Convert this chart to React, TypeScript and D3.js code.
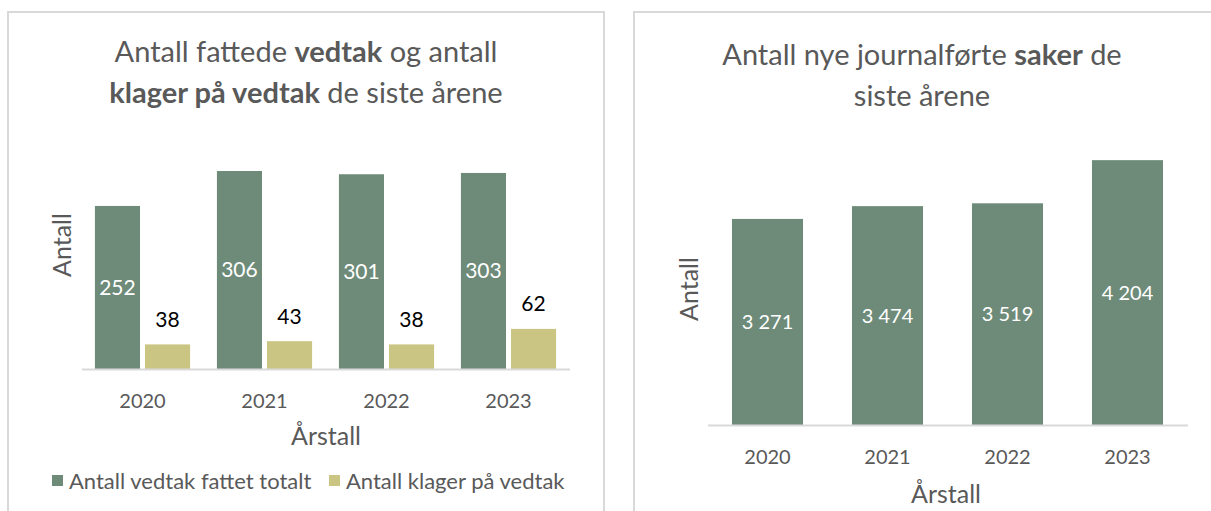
import React, { useEffect, useRef } from 'react';
import * as d3 from 'd3';

// left chart: decisions and complaints
const years = ['2020', '2021', '2022', '2023'];
const vedtakSeries = ['Antall vedtak fattet totalt', 'Antall klager på vedtak'];
const vedtakTotalt = [252, 306, 301, 303];
const klagerPaVedtak = [38, 43, 38, 62];

// right chart: new registered cases
const nyeSaker = [3271, 3474, 3519, 4204];

const GREEN = '#6e8b79';
const YELLOW = '#cbc584';
const GREY = '#595959';
const FONT = 'Lato, "Noto Sans", sans-serif';

const nb = d3.formatLocale({ decimal: ',', thousands: '\u00a0', grouping: [3], currency: ['', ' kr'] });
const fmt = nb.format(',d');

function App() {
  const ref = useRef<SVGSVGElement>(null);

  useEffect(() => {
    const svg = d3.select(ref.current);
    svg.selectAll('*').remove();

    // panels
    svg.append('rect').attr('x', 8).attr('y', 12).attr('width', 596).attr('height', 520)
      .attr('fill', '#fff').attr('stroke', '#d9d9d9').attr('stroke-width', 2);
    svg.append('rect').attr('x', 634).attr('y', 12).attr('width', 600).attr('height', 520)
      .attr('fill', '#fff').attr('stroke', '#d9d9d9').attr('stroke-width', 2);

    const title = (cx: number, lines: [string, boolean][][], y0: number) => {
      lines.forEach((parts, i) => {
        const t = svg.append('text')
          .attr('x', cx).attr('y', y0 + i * 41)
          .attr('text-anchor', 'middle')
          .style('font-family', FONT).style('font-size', '29px')
          .attr('fill', GREY);
        parts.forEach(([s, b]) => t.append('tspan').attr('font-weight', b ? 'bold' : 'normal').text(s));
      });
    };

    // ---- left chart ----
    title(306, [
      [['Antall fattede ', false], ['vedtak', true], [' og antall', false]],
      [['klager på vedtak', true], [' de siste årene', false]],
    ], 62);

    const x0 = d3.scaleBand().domain(years).range([81.5, 569.5]).paddingInner(0.22).paddingOuter(0.11);
    const x1 = d3.scaleBand().domain(vedtakSeries).range([0, x0.bandwidth()]).paddingInner(0.1);
    const y0 = d3.scaleLinear().domain([0, 350]).range([369, 369 - 350 * 0.647]);

    const gl = svg.append('g');
    const rows = years.map((yr, i) => ({ yr, vals: [vedtakTotalt[i], klagerPaVedtak[i]] }));
    const grp = gl.selectAll('g.grp').data(rows).join('g')
      .attr('transform', d => `translate(${x0(d.yr)},0)`);
    grp.selectAll('rect').data(d => d.vals.map((v, j) => ({ v, s: vedtakSeries[j], j })))
      .join('rect')
      .attr('x', d => x1(d.s)!)
      .attr('width', x1.bandwidth())
      .attr('y', d => y0(d.v))
      .attr('height', d => y0(0) - y0(d.v))
      .attr('fill', d => d.j === 0 ? GREEN : YELLOW);
    grp.selectAll('text').data(d => d.vals.map((v, j) => ({ v, s: vedtakSeries[j], j })))
      .join('text')
      .attr('x', d => x1(d.s)! + x1.bandwidth() / 2)
      .attr('y', d => d.j === 0 ? (y0(d.v) + y0(0)) / 2 : y0(d.v) - 25)
      .attr('dy', '0.35em')
      .attr('text-anchor', 'middle')
      .style('font-family', FONT).style('font-size', '21px')
      .attr('fill', d => d.j === 0 ? '#fff' : '#000')
      .text(d => fmt(d.v));

    const axL = gl.append('g').attr('transform', `translate(0,${y0(0)})`)
      .call(d3.axisBottom(x0).tickSize(0).tickPadding(25));
    axL.select('.domain').attr('stroke', '#d9d9d9').attr('stroke-width', 2);
    axL.selectAll('text').style('font-family', FONT).style('font-size', '20px').attr('fill', GREY);

    gl.append('text').attr('x', 326).attr('y', 445).attr('text-anchor', 'middle')
      .style('font-family', FONT).style('font-size', '25px').attr('fill', GREY).text('Årstall');
    gl.append('text').attr('transform', 'translate(71,245) rotate(-90)').attr('text-anchor', 'middle')
      .style('font-family', FONT).style('font-size', '25px').attr('fill', GREY).text('Antall');

    // legend
    const legX = [52, 329];
    vedtakSeries.forEach((s, i) => {
      gl.append('rect').attr('x', legX[i]).attr('y', 475).attr('width', 11).attr('height', 11)
        .attr('fill', i === 0 ? GREEN : YELLOW);
      gl.append('text').attr('x', legX[i] + 17).attr('y', 481).attr('dy', '0.35em')
        .style('font-family', FONT).style('font-size', '22px').attr('fill', GREY).text(s);
    });

    // ---- right chart ----
    title(922, [
      [['Antall nye journalførte ', false], ['saker', true], [' de', false]],
      [['siste årene', false]],
    ], 65);

    const xr = d3.scaleBand().domain(years).range([707.5, 1187.5]).paddingInner(0.408).paddingOuter(0.204);
    const yr = d3.scaleLinear().domain([0, 4500]).range([425, 425 - 4500 * 0.063]);
    const gr = svg.append('g');
    gr.selectAll('rect').data(nyeSaker).join('rect')
      .attr('x', (d, i) => xr(years[i])!)
      .attr('width', xr.bandwidth())
      .attr('y', d => yr(d))
      .attr('height', d => yr(0) - yr(d))
      .attr('fill', GREEN);
    gr.selectAll('text.val').data(nyeSaker).join('text').attr('class', 'val')
      .attr('x', (d, i) => xr(years[i])! + xr.bandwidth() / 2)
      .attr('y', d => (yr(d) + yr(0)) / 2)
      .attr('dy', '0.35em')
      .attr('text-anchor', 'middle')
      .style('font-family', FONT).style('font-size', '20px')
      .attr('fill', '#fff')
      .text(d => fmt(d));

    const axR = gr.append('g').attr('transform', `translate(0,${yr(0)})`)
      .call(d3.axisBottom(xr).tickSize(0).tickPadding(25));
    axR.select('.domain').attr('stroke', '#d9d9d9').attr('stroke-width', 2);
    axR.selectAll('text').style('font-family', FONT).style('font-size', '20px').attr('fill', GREY);

    gr.append('text').attr('x', 946).attr('y', 503).attr('text-anchor', 'middle')
      .style('font-family', FONT).style('font-size', '25px').attr('fill', GREY).text('Årstall');
    gr.append('text').attr('transform', 'translate(698,289) rotate(-90)').attr('text-anchor', 'middle')
      .style('font-family', FONT).style('font-size', '25px').attr('fill', GREY).text('Antall');
  });

  return (
    <svg ref={ref} width={1211} height={511}
      style={{ position: 'absolute', left: 0, top: 0, background: '#fff' }} />
  );
}

export default App;
